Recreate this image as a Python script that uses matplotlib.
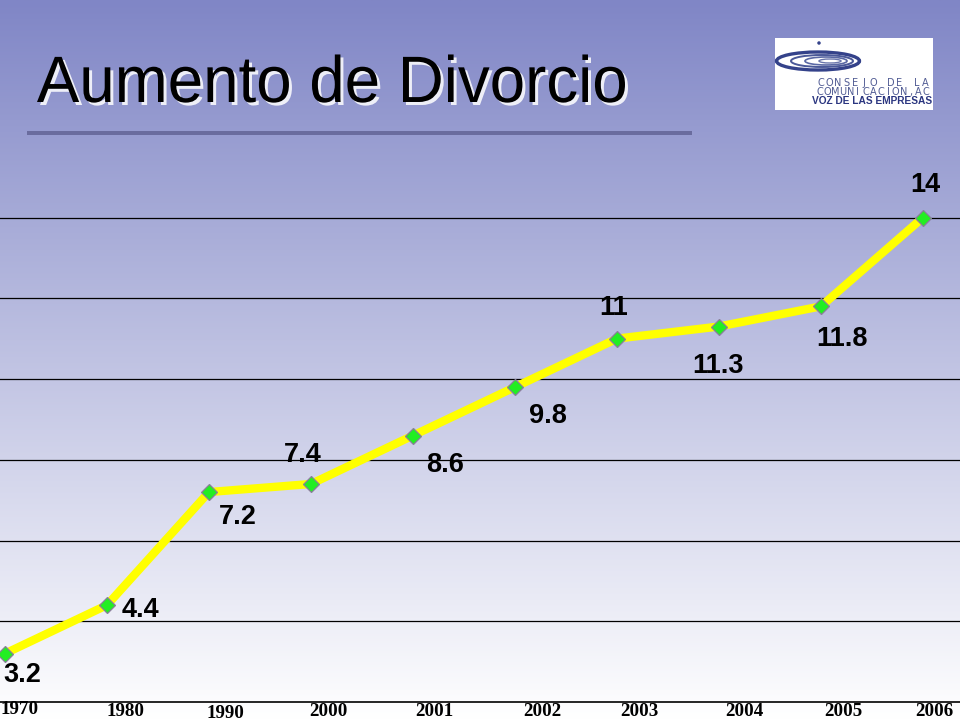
import numpy as np
import matplotlib
matplotlib.use('Agg')
import matplotlib.pyplot as plt
from matplotlib.patches import Rectangle, Ellipse, PathPatch
from matplotlib.textpath import TextPath
from matplotlib.font_manager import FontProperties
from matplotlib.transforms import Affine2D, IdentityTransform

# datos
years = ['1970', '1980', '1990', '2000', '2001', '2002', '2003', '2004', '2005', '2006']
divorce = [3.2, 4.4, 7.2, 7.4, 8.6, 9.8, 11, 11.3, 11.8, 14]
value_labels = ['3.2', '4.4', '7.2', '7.4', '8.6', '9.8', '11', '11.3', '11.8', '14']

# posiciones de etiquetas (pixeles respecto al punto)
label_offsets = [(17, -21), (33, -5), (29, -25), (-8, 29), (32, -29),
                 (33, -29), (-3, 31), (-1, -39), (21, -33), (2, 33)]
year_offsets = [(15, -8), (19, -10), (16, -11), (17, -10), (21, -10),
                (27, -10), (22, -10), (25, -10), (22, -10), (11, -10)]

W, H = 960, 720
fig = plt.figure(figsize=(9.6, 7.2), dpi=100)

# fondo degradado
bg = fig.add_axes([0, 0, 1, 1], zorder=-10)
top = np.array([128, 134, 198]) / 255
bottom = np.array([255, 255, 255]) / 255
t = np.linspace(0, 1, 256)[:, None]
grad = top + (bottom - top) * t
bg.imshow(grad[:, None, :].repeat(2, axis=1), aspect='auto', extent=[0, 1, 0, 1],
          origin='upper')
bg.set_xlim(0, 1)
bg.set_ylim(0, 1)
bg.axis('off')


def px(x, y):
    # pixel (desde arriba-izquierda) -> fraccion de figura
    return x / W, 1 - y / H


# titulo: fuente estrecha (se comprime en x)
tp = TextPath((0, 0), 'Aumento de Divorcio', size=65.6,
              prop=FontProperties(family='Liberation Sans'))
ext = tp.get_extents()
sx = 588 / ext.width
for dx, dy, col, a in [(3, -3, 'white', 0.85), (0, 0, 'black', 1.0)]:
    tr = Affine2D().translate(-ext.x0, 0).scale(sx, 1).translate(37 + dx, H - 102 + dy)
    fig.patches.append(PathPatch(tr.transform_path(tp), transform=IdentityTransform(),
                                 facecolor=col, edgecolor='none', alpha=a))
fig.patches.append(Rectangle(px(27, 135), 665 / W, 4 / H, transform=fig.transFigure,
                             facecolor='#6a6c9e', edgecolor='none'))

# logo
fig.patches.append(Rectangle(px(775, 110), 158 / W, 72 / H, transform=fig.transFigure,
                             facecolor='white', edgecolor='none'))
for cx, w, h, lw, col in [(818, 83, 18, 2.4, '#34428a'), (822, 62, 12, 1.4, '#4a5898'),
                          (826, 42, 8, 1.2, '#5a68a4'), (830, 22, 4, 1.0, '#6a76ac')]:
    fig.patches.append(Ellipse(px(cx, 61), w / W, h / H, transform=fig.transFigure,
                               facecolor='none', edgecolor=col, lw=lw))
fig.patches.append(Ellipse(px(819, 43), 3.5 / W, 3.5 / H, transform=fig.transFigure,
                           facecolor='#34428a', edgecolor='none'))


def spaced(s, x0, x1, y, **kw):
    n = len(s)
    step = (x1 - x0) / n
    for i, ch in enumerate(s):
        if ch != ' ':
            fig.text(*px(x0 + step * (i + 0.5), y), ch, ha='center', va='center', **kw)


spaced('CONSEJO DE LA', 816, 930, 83, fontsize=7, color='#515c94', family='DejaVu Sans')
spaced('COMUNICACION,AC', 816, 930, 92, fontsize=7, color='#515c94', family='DejaVu Sans')
fig.text(*px(872, 101), 'VOZ DE LAS EMPRESAS', fontsize=7.3, color='#2b3680',
         family='Liberation Sans', fontweight='bold', ha='center', va='center')

# grafica
y0_px, y1_px = 702, 217.5
ax = fig.add_axes([0, 1 - y0_px / H, 1, (y0_px - y1_px) / H])
ax.patch.set_alpha(0)
x = np.arange(len(years))
ax.set_xlim(-5 / 102, 9 + 37 / 102)
ax.set_ylim(2, 14)
for v in range(4, 15, 2):
    ax.axhline(v, color='black', lw=0.9, zorder=1)
for s in ['top', 'left', 'right']:
    ax.spines[s].set_visible(False)
ax.spines['bottom'].set_linewidth(1.2)
ax.set_xticks([])
ax.set_yticks([])

ax.plot(x, divorce, color='#ffff00', lw=6, solid_joinstyle='round', zorder=3, clip_on=False)
ax.plot(x, divorce, linestyle='none', marker='D', markersize=8.5, markerfacecolor='#22ee22',
        markeredgecolor='#8a7f9a', markeredgewidth=0.9, zorder=4, clip_on=False)

for xi, v, lab, (dx, dy) in zip(x, divorce, value_labels, label_offsets):
    ax.annotate(lab, (xi, v), xytext=(dx, dy), textcoords='offset pixels',
                ha='center', va='center', fontsize=19.5, fontweight='bold',
                family='Liberation Sans', color='black', annotation_clip=False)

for xi, yr, (dx, dy) in zip(x, years, year_offsets):
    ax.annotate(yr, (xi, 2), xytext=(dx, dy), textcoords='offset pixels',
                ha='center', va='center', fontsize=13.7, fontweight='bold',
                family='Liberation Serif', color='black', annotation_clip=False)

fig.savefig('out.png', dpi=100)
